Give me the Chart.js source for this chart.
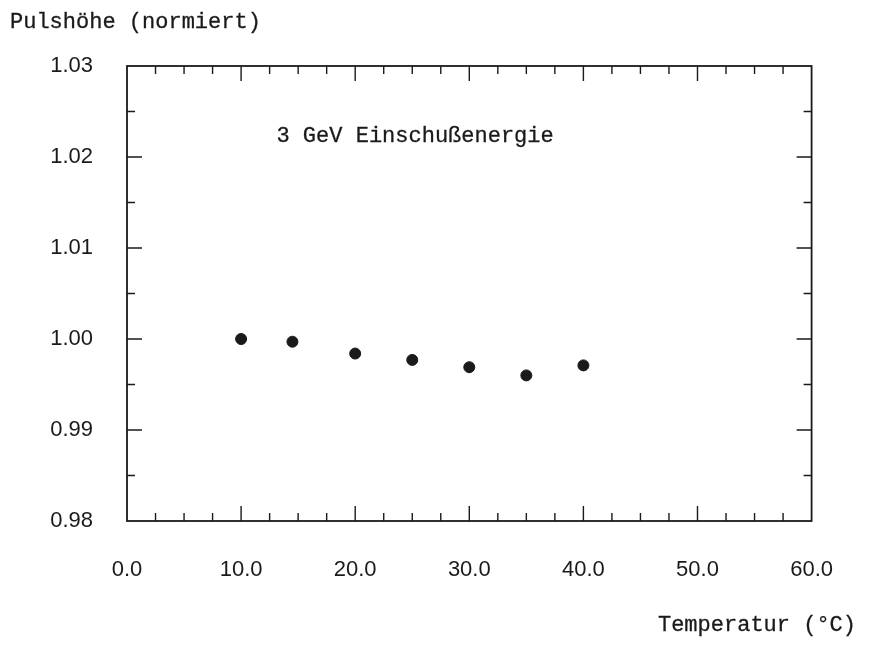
<!DOCTYPE html>
<html>
<head>
<meta charset="utf-8">
<script src="https://cdn.jsdelivr.net/npm/chart.js@4.4.0/dist/chart.umd.min.js"></script>
<style>
  html, body { margin: 0; padding: 0; background: #fff; }
  #wrap { width: 869px; height: 646px; }
</style>
</head>
<body>
<div id="wrap"><canvas id="myChart"></canvas></div>
<script>
let temperatures = [10, 14.5, 20, 25, 30, 35, 40];
let pulseHeights = [1.0000, 0.9997, 0.9984, 0.9977, 0.9969, 0.9960, 0.9971];

let xTickLabels = ['0.0', '10.0', '20.0', '30.0', '40.0', '50.0', '60.0'];
let yTickLabels = ['0.98', '0.99', '1.00', '1.01', '1.02', '1.03'];

let yTitle = 'Pulshöhe (normiert)';
let xTitle = 'Temperatur (°C)';
let note = '3 GeV Einschußenergie';

let ink = '#1a1a1a';
let titleFont = '22px "Liberation Mono", monospace';
let tickFont = { family: '"Liberation Sans", Arial, sans-serif', size: 22 };

// box, inward ticks and text
let framePlugin = {
    id: 'frame',
    afterDraw(chart) {
        let ctx = chart.ctx;
        let a = chart.chartArea;
        let xs = chart.scales.x, ys = chart.scales.y;
        ctx.save();
        ctx.strokeStyle = ink;
        ctx.lineWidth = 1.8;
        ctx.strokeRect(a.left, a.top, a.right - a.left, a.bottom - a.top);

        ctx.lineWidth = 1.4;
        ctx.beginPath();
        for (let i = 1; i < 24; i++) {
            let v = i * 2.5;
            let px = xs.getPixelForValue(v);
            let len = (i % 4 === 0) ? 15 : 8;
            ctx.moveTo(px, a.bottom); ctx.lineTo(px, a.bottom - len);
            ctx.moveTo(px, a.top); ctx.lineTo(px, a.top + len);
        }
        for (let i = 1; i < 10; i++) {
            let v = 0.98 + i * 0.005;
            let py = ys.getPixelForValue(v);
            let len = (i % 2 === 0) ? 15 : 8;
            ctx.moveTo(a.left, py); ctx.lineTo(a.left + len, py);
            ctx.moveTo(a.right, py); ctx.lineTo(a.right - len, py);
        }
        ctx.stroke();

        // typewriter-style labels, a touch heavier than the plain mono face
        ctx.fillStyle = ink;
        ctx.strokeStyle = ink;
        ctx.lineWidth = 0.3;
        ctx.font = titleFont;
        ctx.textBaseline = 'middle';
        let put = (txt, x, y) => { ctx.fillText(txt, x, y); ctx.strokeText(txt, x, y); };
        ctx.textAlign = 'left';
        put(yTitle, 10, 22);
        put(note, xs.getPixelForValue(13.1), ys.getPixelForValue(1.0223));
        ctx.textAlign = 'right';
        put(xTitle, 856, 625);
        ctx.restore();
    }
};

let myChart = document.getElementById('myChart').getContext('2d');

let pulseChart = new Chart(myChart, {
    type: 'scatter',
    data: {
        datasets: [{
            label: 'Pulshöhe',
            data: temperatures.map((t, i) => ({ x: t, y: pulseHeights[i] })),
            backgroundColor: ink,
            borderColor: ink,
            pointRadius: 5.5,
            pointHoverRadius: 5.5,
        }]
    },
    options: {
        responsive: true,
        maintainAspectRatio: false,
        animation: false,
        layout: { padding: { top: 66, right: 57, left: 0, bottom: 0 } },
        plugins: {
            legend: { display: false },
            tooltip: { enabled: false },
        },
        scales: {
            x: {
                type: 'linear',
                min: 0, max: 60,
                grid: { display: false, drawTicks: false },
                border: { display: false },
                ticks: {
                    stepSize: 10,
                    padding: 36,
                    color: ink,
                    font: tickFont,
                    callback: (v) => xTickLabels[Math.round(v / 10)],
                },
                afterFit: (s) => { s.height = 125; },
            },
            y: {
                type: 'linear',
                min: 0.98, max: 1.03,
                grid: { display: false, drawTicks: false },
                border: { display: false },
                ticks: {
                    stepSize: 0.01,
                    padding: 34,
                    color: ink,
                    font: tickFont,
                    callback: (v) => yTickLabels[Math.round((v - 0.98) / 0.01)],
                },
                afterFit: (s) => { s.width = 127; },
            }
        }
    },
    plugins: [framePlugin]
});
</script>
</body>
</html>
